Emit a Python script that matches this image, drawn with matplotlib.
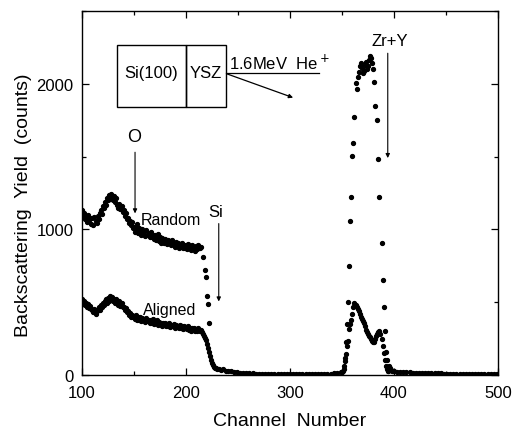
import matplotlib.pyplot as plt
from matplotlib.patches import Rectangle
from matplotlib.ticker import MultipleLocator

plt.rcParams['font.family'] = ['Liberation Sans', 'DejaVu Sans']

# random spectrum, Si plateau (one value per channel, 100-214) + Si edge
randomCh = list(range(100, 215)) + [216, 218, 219, 220, 221, 222]
randomCounts = [1130, 1095, 1110, 1070, 1085, 1050, 1100, 1065, 1080, 1040,
                1075, 1030, 1085, 1060, 1045, 1090, 1070, 1110, 1130, 1105,
                1160, 1150, 1185, 1170, 1215, 1200, 1235, 1210, 1245, 1220,
                1200, 1230, 1190, 1215, 1170, 1150, 1175, 1140, 1160, 1120,
                1130, 1095, 1110, 1070, 1080, 1045, 1060, 1030, 1050, 1010,
                1020, 985, 1005, 1040, 975, 1010, 990, 960, 1000, 970,
                985, 955, 995, 960, 975, 945, 980, 950, 965, 935,
                960, 925, 950, 970, 920, 945, 910, 940, 925, 905,
                935, 915, 900, 930, 905, 920, 890, 925, 900, 880,
                915, 890, 905, 870, 900, 885, 910, 875, 895, 870,
                890, 865, 900, 875, 885, 860, 895, 870, 880, 855,
                885, 865, 890, 870, 880,
                810, 720, 670, 545, 485, 360]

# random spectrum, Zr+Y peak
peakCh = [352, 353, 354, 355, 356, 357, 358, 359, 360, 361, 362, 363, 364,
          365, 366, 367, 368, 369, 370, 371, 372, 373, 374, 375, 376, 377,
          378, 379, 380, 381, 382, 384, 385, 386, 388, 389, 390, 391, 392,
          393, 394]
peakCounts = [40, 120, 230, 350, 500, 750, 1060, 1220, 1505, 1595, 1775, 2005, 1965,
              2050, 2080, 2120, 2140, 2110, 2075, 2090, 2130, 2150, 2100, 2120, 2165, 2190,
              2175, 2145, 2100, 2015, 1845, 1750, 1485, 1225, 905, 655, 470, 305, 160,
              100, 30]

# aligned spectrum, Si plateau (one value per channel, 100-214) + edge + low tail
alignedCh = list(range(100, 231)) + list(range(232, 242, 2)) \
    + list(range(243, 348, 3)) + [349]
alignedCounts = [520, 490, 505, 480, 495, 470, 485, 460, 475, 455,
                 445, 430, 450, 420, 440, 455, 470, 445, 480, 465,
                 495, 480, 505, 520, 495, 530, 510, 545, 520, 535,
                 505, 525, 495, 520, 500, 480, 505, 475, 495, 465,
                 470, 445, 460, 430, 440, 410, 425, 400, 415, 395,
                 405, 385, 410, 375, 395, 380, 400, 370, 390, 375,
                 385, 365, 390, 370, 380, 355, 375, 360, 385, 350,
                 370, 355, 375, 345, 365, 350, 360, 340, 355, 345,
                 360, 335, 350, 340, 355, 330, 345, 335, 350, 325,
                 345, 330, 340, 320, 345, 325, 335, 315, 340, 320,
                 330, 315, 335, 310, 325, 305, 320, 310, 325, 300,
                 315, 305, 320, 300, 310,
                 295, 285, 270, 255, 240, 215, 185, 160, 130, 105, 85, 70, 55, 50, 45, 40,
                 42, 35, 38, 30, 28,
                 25, 20, 18, 15, 16, 14, 12, 11, 10, 10, 9, 10, 8, 9, 8, 8, 7, 8, 7, 6,
                 7, 6, 7, 6, 6, 7, 6, 7, 8, 7, 8, 9, 10, 12, 14,
                 18]

# aligned spectrum, Zr+Y peak and high-channel tail
alignedPeakCh = list(range(350, 396)) + list(range(396, 400)) + list(range(400, 501, 3))
alignedPeakCounts = [22, 30, 60, 98, 144, 200, 235, 315, 350, 375, 420, 470, 495,
                     480, 470, 455, 440, 420, 400, 385, 370, 360, 335, 310, 292, 280,
                     270, 258, 245, 235, 225, 230, 250, 270, 280, 292, 300, 280, 247,
                     200, 150, 100, 60, 40, 30, 60,
                     45, 35, 30, 28,
                     25, 23, 22, 20, 19, 18, 17, 16, 15, 15, 14, 13, 12, 12, 11, 11, 10,
                     10, 9, 9, 9, 8, 8, 8, 7, 7, 7, 6, 6, 6, 6, 5, 5, 5]

fig = plt.figure(figsize=(5.29, 4.31), dpi=100)
ax = fig.add_axes([0.155, 0.1276, 0.7864, 0.8445])

for ch, counts in [(randomCh, randomCounts), (peakCh, peakCounts),
                   (alignedCh, alignedCounts), (alignedPeakCh, alignedPeakCounts)]:
    ax.plot(ch, counts, ls='None', marker='o', ms=2.8, color='k', mec='k')

ax.set_xlim(100, 500)
ax.set_ylim(0, 2500)
ax.xaxis.set_major_locator(MultipleLocator(100))
ax.xaxis.set_minor_locator(MultipleLocator(50))
ax.yaxis.set_major_locator(MultipleLocator(1000))
ax.yaxis.set_minor_locator(MultipleLocator(500))
ax.tick_params(which='both', direction='in', top=True, right=True, labelsize=12, width=0.9)
ax.tick_params(which='major', length=5)
ax.tick_params(which='minor', length=3)
ax.tick_params(axis='x', pad=7)
ax.tick_params(axis='y', pad=6)
for s in ax.spines.values():
    s.set_linewidth(1.0)

ax.set_xlabel('Channel  Number', fontsize=14, labelpad=9)
ax.set_ylabel('Backscattering  Yield  (counts)', fontsize=14)
ax.yaxis.set_label_coords(-0.12, 0.47)

arrowKw = dict(arrowstyle='-|>', lw=0.8, color='k', mutation_scale=6, shrinkA=0, shrinkB=0)
ax.text(150, 1640, 'O', fontsize=13, ha='center', va='center')
ax.annotate('', xy=(151, 1110), xytext=(151, 1530), arrowprops=arrowKw)
ax.text(185, 1068, 'Random', fontsize=11.5, ha='center', va='center')
ax.text(184.5, 452, 'Aligned', fontsize=11.5, ha='center', va='center')
ax.text(228.5, 1125, 'Si', fontsize=12, ha='center', va='center')
ax.annotate('', xy=(231.5, 505), xytext=(231.5, 1040), arrowprops=arrowKw)
ax.text(395.5, 2300, 'Zr+Y', fontsize=12, ha='center', va='center')
ax.annotate('', xy=(394, 1490), xytext=(394, 2210), arrowprops=arrowKw)

# sample sketch
ax.add_patch(Rectangle((133.3, 1842), 66.5, 425, fill=False, lw=1.0, ec='k'))
ax.add_patch(Rectangle((199.8, 1842), 39, 425, fill=False, lw=1.0, ec='k'))
ax.text(166.5, 2075, 'Si(100)', fontsize=12, ha='center', va='center')
ax.text(219.3, 2075, 'YSZ', fontsize=12, ha='center', va='center')
ax.plot([238.8, 328], [2073, 2073], color='k', lw=0.9)
ax.text(241, 2150, '1.6MeV  He$^+$', fontsize=12, ha='left', va='center')
ax.annotate('', xy=(303, 1905), xytext=(239.5, 2068),
            arrowprops=dict(arrowstyle='-|>', lw=0.9, color='k', mutation_scale=6,
                            shrinkA=0, shrinkB=0))

fig.savefig('out.png', dpi=100)
